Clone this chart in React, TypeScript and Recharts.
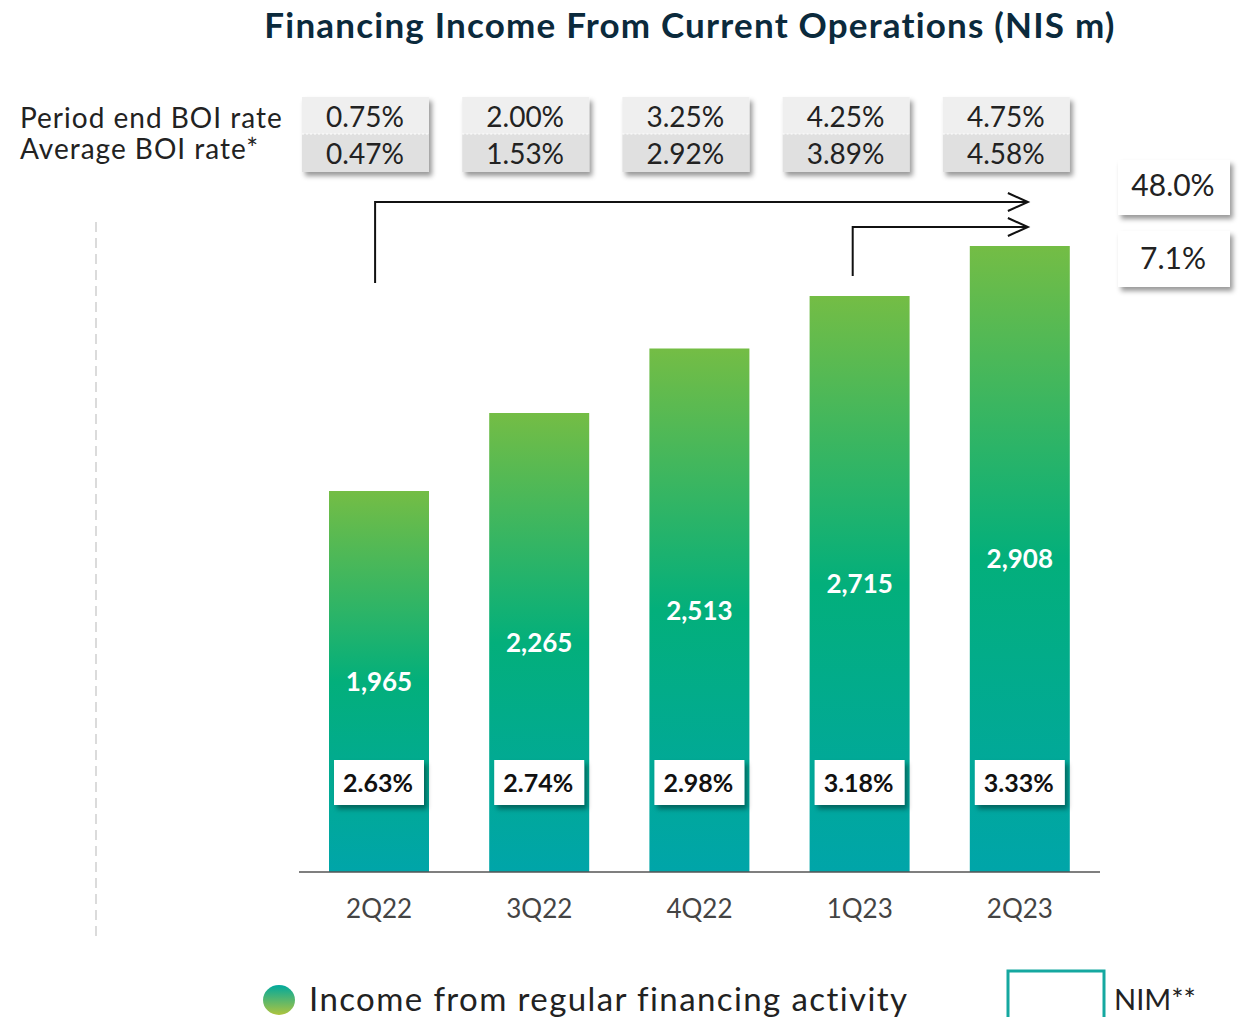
import { BarChart, Bar, XAxis, YAxis, LabelList } from "recharts";

const quarters = ["2Q22", "3Q22", "4Q22", "1Q23", "2Q23"];
const income = [1965, 2265, 2513, 2715, 2908];
const nim = ["2.63%", "2.74%", "2.98%", "3.18%", "3.33%"];
const periodEndRate = ["0.75%", "2.00%", "3.25%", "4.25%", "4.75%"];
const avgRate = ["0.47%", "1.53%", "2.92%", "3.89%", "4.58%"];
const growth = ["48.0%", "7.1%"];

const data = quarters.map((q, i) => ({
  q, income: income[i], nim: nim[i], periodEnd: periodEndRate[i], avg: avgRate[i],
}));

const FONT = "Lato, 'Noto Sans', sans-serif";
const W = 1240, H = 1017;
const AXIS_H = 30;
const M = { top: 222, right: 140, bottom: 145 - AXIS_H, left: 299 };
const band = (W - M.left - M.right) / quarters.length;
const center = (i: number) => M.left + band * (i + 0.5);

function RateBox(props: any) {
  const { x, width, index } = props;
  const cx = x + width / 2 - 14;
  const bx = cx - 63;
  return (
    <g>
      <g filter="url(#shadow)">
        <rect x={bx} y={97} width={127} height={37} fill="#efefef" />
        <rect x={bx} y={134} width={127} height={38} fill="#e0e0e0" />
      </g>
      <line x1={bx} x2={bx + 127} y1={134} y2={134} stroke="#fff" strokeDasharray="2 2" />
      <text x={cx} y={116} textAnchor="middle" dominantBaseline="central"
        fontFamily={FONT} fontSize={28} fill="#222">{periodEndRate[index]}</text>
      <text x={cx} y={153} textAnchor="middle" dominantBaseline="central"
        fontFamily={FONT} fontSize={28} fill="#222">{avgRate[index]}</text>
    </g>
  );
}

function NimBox(props: any) {
  const { x, y, width, height, value } = props;
  const base = y + height;
  return (
    <g>
      <rect x={x + 5} y={base - 112} width={width - 10} height={45} fill="#fff" filter="url(#shadow)" />
      <text x={x + width / 2 - 1} y={base - 90} textAnchor="middle" dominantBaseline="central"
        fontFamily={FONT} fontSize={25} fontWeight={700} fill="#111">{value}</text>
    </g>
  );
}

function Arrow({ x, y, top }: { x: number; y: number; top: number }) {
  const end = center(4) + 8;
  return (
    <g stroke="#111" strokeWidth={2} fill="none">
      <polyline points={`${x},${top} ${x},${y} ${end},${y}`} />
      <polyline points={`${end - 20},${y - 9} ${end},${y} ${end - 20},${y + 9}`} />
    </g>
  );
}

export default function App() {
  return (
    <div style={{ position: "absolute", left: 0, top: 0, width: W, height: H, background: "#fff", overflow: "hidden" }}>
      <BarChart width={W} height={H} data={data} margin={M}>
        <defs>
          <linearGradient id="barGrad" x1="0" y1="0" x2="0" y2="1">
            <stop offset="0%" stopColor="#74bd45" />
            <stop offset="50%" stopColor="#03af7b" />
            <stop offset="100%" stopColor="#00a5a9" />
          </linearGradient>
          <filter id="shadow" x="-20%" y="-20%" width="140%" height="150%">
            <feDropShadow dx={3} dy={4} stdDeviation={2.5} floodColor="#000" floodOpacity={0.4} />
          </filter>
        </defs>
        <XAxis dataKey="q" height={AXIS_H} tickLine={false} axisLine={{ stroke: "#555", strokeWidth: 1.5 }}
          tickMargin={22} tick={{ fontFamily: FONT, fontSize: 26, fill: "#444" }} />
        <YAxis hide domain={[500, 3000]} allowDataOverflow />
        <Bar dataKey="income" fill="url(#barGrad)" barSize={100} isAnimationActive={false}>
          <LabelList dataKey="income" position="center"
            formatter={(v: any) => Number(v).toLocaleString("en-US")}
            style={{ fontFamily: FONT, fontSize: 26, fontWeight: 700, fill: "#fff" }} />
          <LabelList dataKey="nim" content={<NimBox />} />
          <LabelList dataKey="periodEnd" content={<RateBox />} />
        </Bar>
      </BarChart>

      <svg width={W} height={H} style={{ position: "absolute", left: 0, top: 0, pointerEvents: "none" }}>
        <defs>
          <filter id="shadow2" x="-20%" y="-20%" width="140%" height="150%">
            <feDropShadow dx={3} dy={4} stdDeviation={2.5} floodColor="#000" floodOpacity={0.4} />
          </filter>
          <linearGradient id="legGrad" x1="0" y1="0" x2="0" y2="1">
            <stop offset="0%" stopColor="#00a99d" />
            <stop offset="100%" stopColor="#aec43e" />
          </linearGradient>
        </defs>
        <text x={690} y={24} textAnchor="middle" dominantBaseline="central"
          fontFamily={FONT} fontSize={35} fontWeight={700} fill="#0b2a3c" letterSpacing={1.2}>
          Financing Income From Current Operations (NIS m)
        </text>
        <text x={20} y={117} dominantBaseline="central" fontFamily={FONT} fontSize={28} fill="#222" letterSpacing={1}>Period end BOI rate</text>
        <text x={20} y={148} dominantBaseline="central" fontFamily={FONT} fontSize={28} fill="#222" letterSpacing={1}>Average BOI rate*</text>

        <line x1={96} x2={96} y1={222} y2={942} stroke="#cfcfcf" strokeWidth={1.5} strokeDasharray="10 6" />

        <Arrow x={center(0) - 4} y={202} top={283} />
        <Arrow x={center(3) - 7} y={227} top={276} />
        <rect x={1118} y={160} width={112} height={55} fill="#fff" filter="url(#shadow2)" />
        <rect x={1118} y={231} width={112} height={56} fill="#fff" filter="url(#shadow2)" />
        <text x={1173} y={184} textAnchor="middle" dominantBaseline="central" fontFamily={FONT} fontSize={30} fill="#222">{growth[0]}</text>
        <text x={1173} y={257} textAnchor="middle" dominantBaseline="central" fontFamily={FONT} fontSize={30} fill="#222">{growth[1]}</text>

        <ellipse cx={279} cy={1000} rx={16} ry={15} fill="url(#legGrad)" />
        <text x={309} y={998} dominantBaseline="central" fontFamily={FONT} fontSize={33} fill="#222" letterSpacing={1.4}>
          Income from regular financing activity
        </text>
        <rect x={1008} y={971} width={96} height={60} fill="#fff" stroke="#15a8a0" strokeWidth={3} />
        <text x={1114} y={998} dominantBaseline="central" fontFamily={FONT} fontSize={29} fill="#222">NIM**</text>
      </svg>
    </div>
  );
}
